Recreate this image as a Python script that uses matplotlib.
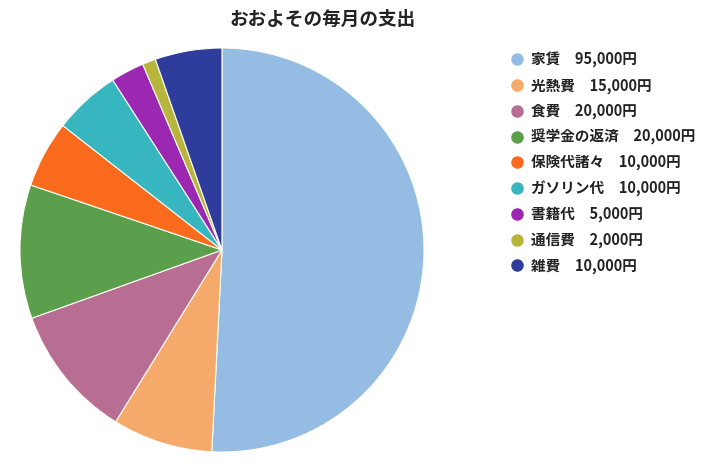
import matplotlib.pyplot as plt
from matplotlib.lines import Line2D

plt.rcParams['font.family'] = ['Noto Sans CJK JP', 'DejaVu Sans']

labels = ['家賃', '光熱費', '食費', '奨学金の返済', '保険代諸々', 'ガソリン代', '書籍代', '通信費', '雑費']
values = [95000, 15000, 20000, 20000, 10000, 10000, 5000, 2000, 10000]
colors = ['#95bde3', '#f5a96a', '#b86e92', '#5b9e4b', '#fa6a1c', '#38b6c0', '#9c27b0', '#b7b53b', '#2e3c9c']

fig = plt.figure(figsize=(7.26, 4.66), dpi=100)
ax = fig.add_axes([0.0275, 0.030, 0.5565, 0.867])
ax.pie(values, colors=colors, startangle=90, counterclock=False,
       wedgeprops={'edgecolor': '#fdfdf5', 'linewidth': 0.8})
ax.set_xlim(-1, 1)
ax.set_ylim(-1, 1)
ax.set_aspect('equal')

fig.text(0.444, 0.959, 'おおよその毎月の支出', ha='center', va='center',
         fontsize=13.4, fontweight='bold', color='#222222')

handles = [Line2D([], [], marker='o', linestyle='none', markersize=8,
                  markerfacecolor=c, markeredgecolor=c) for c in colors]
texts = [f'{l}\u3000{v:,}円' for l, v in zip(labels, values)]
leg = fig.legend(handles, texts, loc='upper left', bbox_to_anchor=(0.694, 0.902),
                 frameon=False, handletextpad=0.45, handlelength=1.0,
                 labelspacing=0.64, borderaxespad=0,
                 prop={'size': 10.5, 'weight': 'bold'})
for t in leg.get_texts():
    t.set_color('#222222')

fig.savefig('out.png', dpi=100)
